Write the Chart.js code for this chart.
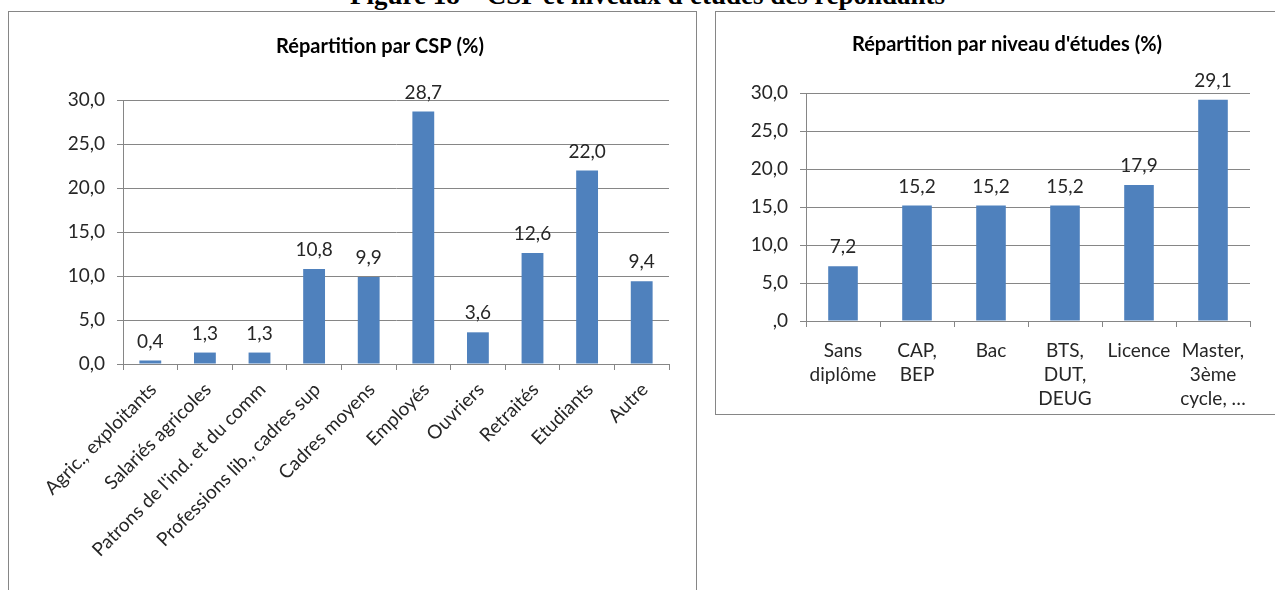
<!DOCTYPE html>
<html lang="fr">
<head>
<meta charset="utf-8">
<title>Figure 18 – CSP et niveaux d'études des répondants</title>
<script src="https://cdn.jsdelivr.net/npm/chart.js@4.4.1/dist/chart.umd.min.js"></script>
<style>
  html, body { margin: 0; padding: 0; background: #fff; }
  body { width: 1275px; height: 590px; position: relative; overflow: hidden; }
  #caption {
    position: absolute; left: 10px; top: -18px; width: 1275px;
    text-align: center; color: #000; white-space: nowrap;
    font: bold 27px/27px 'Liberation Serif', 'Times New Roman', serif;
  }
  .panel { position: absolute; border: 1px solid #868686; box-sizing: border-box; }
  #panel-csp { left: 8px; top: 11px; width: 689px; height: 640px; }
  #panel-etudes { left: 715px; top: 11px; width: 640px; height: 404px; }
  canvas { position: absolute; }
  #chart-csp { left: 9px; top: 12px; }
  #chart-etudes { left: 716px; top: 12px; }
</style>
</head>
<body>
<div id="caption">Figure 18 – CSP et niveaux d'études des répondants</div>
<div class="panel" id="panel-csp"></div>
<div class="panel" id="panel-etudes"></div>
<canvas id="chart-csp" width="686" height="578"></canvas>
<canvas id="chart-etudes" width="558" height="401"></canvas>

<script>
// Répartition par CSP (%)
const cspLabels = [
  'Agric., exploitants',
  'Salariés agricoles',
  "Patrons de l'ind. et du comm",
  'Professions lib., cadres sup',
  'Cadres moyens',
  'Employés',
  'Ouvriers',
  'Retraités',
  'Etudiants',
  'Autre',
];
const cspValues = [0.4, 1.3, 1.3, 10.8, 9.9, 28.7, 3.6, 12.6, 22.0, 9.4];
const cspTickLabels = ['0,0', '5,0', '10,0', '15,0', '20,0', '25,0', '30,0'];

// Répartition par niveau d'études (%)
const etudesLabels = [
  ['Sans', 'diplôme'],
  ['CAP,', 'BEP'],
  ['Bac'],
  ['BTS,', 'DUT,', 'DEUG'],
  ['Licence'],
  ['Master,', '3ème', 'cycle, …'],
];
const etudesValues = [7.2, 15.2, 15.2, 15.2, 17.9, 29.1];
const etudesTickLabels = [',0', '5,0', '10,0', '15,0', '20,0', '25,0', '30,0'];

const BAR_COLOR = '#4f81bd';
const AXIS_COLOR = '#868686';
const TEXT_COLOR = '#262626';
const FONT = 'Lato';

function formatFr(v) {
  return v.toFixed(1).replace('.', ',');
}

// values written above each bar
const barValueLabels = {
  id: 'barValueLabels',
  afterDatasetsDraw(chart) {
    const ctx = chart.ctx;
    const meta = chart.getDatasetMeta(0);
    const values = chart.data.datasets[0].data;
    ctx.save();
    ctx.font = '19px ' + FONT;
    ctx.fillStyle = TEXT_COLOR;
    ctx.textAlign = 'center';
    ctx.textBaseline = 'middle';
    meta.data.forEach((bar, i) => {
      ctx.fillText(formatFr(values[i]), bar.x, bar.y - 19);
    });
    ctx.restore();
  },
};

// the built-in title can only centre on the canvas, the original sits off-centre
const panelTitle = {
  id: 'panelTitle',
  afterDraw(chart, args, opts) {
    const ctx = chart.ctx;
    ctx.save();
    ctx.font = 'bold 20px ' + FONT;
    ctx.fillStyle = '#000';
    ctx.textAlign = 'center';
    ctx.textBaseline = 'middle';
    ctx.fillText(opts.text, opts.x, opts.y);
    ctx.restore();
  },
};

function makeBarChart(canvasId, cfg) {
  return new Chart(document.getElementById(canvasId), {
    type: 'bar',
    data: {
      labels: cfg.labels,
      datasets: [
        {
          data: cfg.values,
          backgroundColor: BAR_COLOR,
          borderWidth: 0,
          barPercentage: 0.4,
          categoryPercentage: 1.0,
        },
      ],
    },
    options: {
      responsive: false,
      animation: false,
      layout: { padding: { top: cfg.padTop, left: 0, bottom: 0, right: cfg.padRight } },
      plugins: {
        legend: { display: false },
        tooltip: { enabled: false },
        title: { display: false },
        panelTitle: { text: cfg.title, x: cfg.titleX, y: cfg.titleY },
      },
      scales: {
        x: {
          afterFit: (scale) => { scale.height = cfg.xHeight; },
          grid: {
            drawOnChartArea: false,
            drawTicks: true,
            tickLength: 6,
            color: AXIS_COLOR,
          },
          border: { display: true, color: AXIS_COLOR },
          ticks: {
            autoSkip: false,
            maxRotation: cfg.rotation,
            minRotation: cfg.rotation,
            padding: cfg.xPad,
            labelOffset: cfg.xShift,
            color: TEXT_COLOR,
            font: { family: FONT, size: 19, lineHeight: 1.25 },
          },
        },
        y: {
          min: 0,
          max: 30,
          afterFit: (scale) => { scale.width = cfg.yWidth; },
          grid: { color: AXIS_COLOR, tickLength: 6 },
          border: { display: true, color: AXIS_COLOR },
          ticks: {
            stepSize: 5,
            padding: 12,
            color: TEXT_COLOR,
            font: { family: FONT, size: 19 },
            callback: (value) => cfg.tickLabels[Math.round(value / 5)],
          },
        },
      },
    },
    plugins: [barValueLabels, panelTitle],
  });
}

makeBarChart('chart-csp', {
  labels: cspLabels,
  values: cspValues,
  tickLabels: cspTickLabels,
  title: 'Répartition par CSP (%)',
  titleX: 371,
  titleY: 35,
  padTop: 88,
  padRight: 26,
  yWidth: 114,
  xHeight: 226,
  rotation: 45,
  xPad: 8,
  xShift: 3,
});

makeBarChart('chart-etudes', {
  labels: etudesLabels,
  values: etudesValues,
  tickLabels: etudesTickLabels,
  title: "Répartition par niveau d'études (%)",
  titleX: 291,
  titleY: 33,
  padTop: 81,
  padRight: 24,
  yWidth: 90,
  xHeight: 92,
  rotation: 0,
  xPad: 12,
  xShift: 0,
});
</script>
</body>
</html>
